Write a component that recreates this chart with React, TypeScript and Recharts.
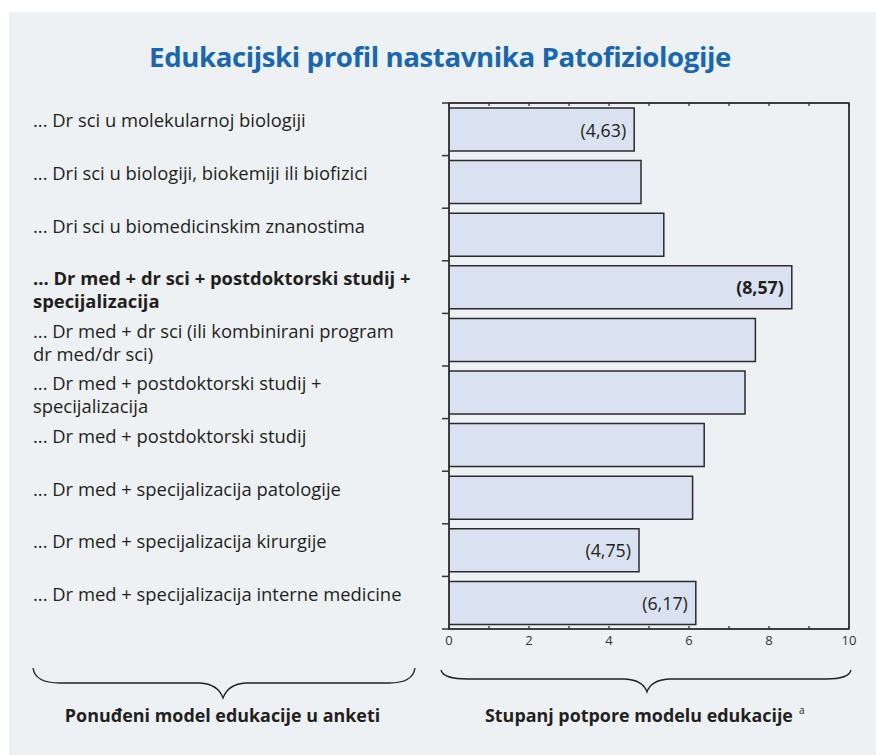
import { BarChart, Bar, XAxis, YAxis, ReferenceLine, ReferenceArea, LabelList } from "recharts"

const categories = [
  "... Dr sci u molekularnoj biologiji",
  "... Dri sci u biologiji, biokemiji ili biofizici",
  "... Dri sci u biomedicinskim znanostima",
  "... Dr med + dr sci + postdoktorski studij +\nspecijalizacija",
  "... Dr med + dr sci (ili kombinirani program\ndr med/dr sci)",
  "... Dr med + postdoktorski studij +\nspecijalizacija",
  "... Dr med + postdoktorski studij",
  "... Dr med + specijalizacija patologije",
  "... Dr med + specijalizacija kirurgije",
  "... Dr med + specijalizacija interne medicine",
]
const support = [4.63, 4.8, 5.37, 8.57, 7.66, 7.4, 6.38, 6.09, 4.75, 6.17]
const shownValues = ["(4,63)", "", "", "(8,57)", "", "", "", "", "(4,75)", "(6,17)"]
const highlighted = [false, false, false, true, false, false, false, false, false, false]
const xTicks = [0, 1, 2, 3, 4, 5, 6, 7, 8, 9, 10]

const title = "Edukacijski profil nastavnika Patofiziologije"
const leftCaption = "Ponuđeni model edukacije u anketi"
const rightCaption = "Stupanj potpore modelu edukacije"

const data = categories.map((name, i) => ({ name, value: support[i], shown: shownValues[i] }))

const INK = "#231f20"
const AXIS = "#333333"
const FONT = "'Open Sans', sans-serif"
const LABEL_X = 33

// category labels sit left-aligned at LABEL_X, tick marks go on the band edges
function CategoryTick(props: any) {
  const { x, y, payload, index, visibleTicksCount } = props
  const half = payload?.offset || 26.3
  const lines = String(payload.value).split("\n")
  const bold = highlighted[index]
  return (
    <g>
      <line x1={x - 7} x2={x} y1={y - half} y2={y - half} stroke={AXIS} strokeWidth={1.5} />
      {index === visibleTicksCount - 1 && (
        <line x1={x - 7} x2={x} y1={y + half} y2={y + half} stroke={AXIS} strokeWidth={1.5} />
      )}
      {lines.map((l, i) => (
        <text
          key={i}
          x={LABEL_X}
          y={y - 2 + i * 23}
          fill={INK}
          fontSize={18.4}
          fontWeight={bold ? 700 : 400}
          fontFamily={FONT}
        >
          {l}
        </text>
      ))}
    </g>
  )
}

function BottomTick(props: any) {
  const { x, y, payload } = props
  return (
    <g>
      <line x1={x} x2={x} y1={y} y2={y - 3} stroke={AXIS} strokeWidth={1.3} />
      {payload.value % 2 === 0 && (
        <text x={x} y={y + 13} textAnchor="middle" dominantBaseline="middle" fill={AXIS} fontSize={13} fontFamily={FONT}>
          {payload.value}
        </text>
      )}
    </g>
  )
}

function TopTick(props: any) {
  const { x, y } = props
  return <line x1={x} x2={x} y1={y} y2={y + 3} stroke={AXIS} strokeWidth={1.3} />
}

function ValueLabel(props: any) {
  const { x, y, width, height, value, index } = props
  if (!value) return null
  return (
    <text
      x={x + width - 8}
      y={y + height / 2}
      textAnchor="end"
      dominantBaseline="central"
      fill={INK}
      fontSize={17.8}
      fontWeight={highlighted[index] ? 700 : 400}
      fontFamily={FONT}
    >
      {value}
    </text>
  )
}

export default function App() {
  return (
    <div style={{ position: "absolute", left: 0, top: 0, width: 876, height: 755, background: "#fff", overflow: "hidden" }}>
      <div style={{ position: "absolute", left: 9, top: 12, right: 0, bottom: 0, background: "#edf1f3" }} />
      <div
        style={{
          position: "absolute",
          left: 0,
          width: 880,
          top: 38,
          textAlign: "center",
          color: "#1767b3",
          fontFamily: FONT,
          fontWeight: 700,
          fontSize: 27.6,
          letterSpacing: -0.4,
          lineHeight: "36px",
        }}
      >
        {title}
      </div>
      <div style={{ position: "absolute", left: 0, top: 0 }}>
        <BarChart
          width={876}
          height={755}
          data={data}
          layout="vertical"
          margin={{ top: 102, right: 27, bottom: 96, left: LABEL_X }}
          barCategoryGap={5}
        >
          <XAxis
            type="number"
            domain={[0, 10]}
            ticks={xTicks}
            allowDataOverflow
            height={30}
            tickSize={0}
            tickMargin={0}
            tickLine={false}
            axisLine={{ stroke: AXIS, strokeWidth: 1.5 }}
            tick={<BottomTick />}
            interval={0}
          />
          <XAxis
            xAxisId="top"
            orientation="top"
            type="number"
            domain={[0, 10]}
            ticks={xTicks}
            allowDataOverflow
            height={1}
            tickSize={0}
            tickMargin={0}
            tickLine={false}
            axisLine={{ stroke: AXIS, strokeWidth: 1.5 }}
            tick={<TopTick />}
            interval={0}
          />
          <YAxis
            type="category"
            dataKey="name"
            width={449 - LABEL_X}
            tickSize={0}
            tickMargin={0}
            tickLine={false}
            axisLine={{ stroke: AXIS, strokeWidth: 1.5 }}
            tick={<CategoryTick />}
            interval={0}
          />
          <ReferenceArea x1={0} x2={10} fill="none" stroke={AXIS} strokeWidth={1.5} fillOpacity={0} />
          {/* binds the top axis so it gets a domain and draws its ticks */}
          <ReferenceLine xAxisId="top" x={10} ifOverflow="extendDomain" stroke={AXIS} strokeWidth={1.5} />
          <Bar dataKey="value" fill="#dae1f0" stroke="#2b2b2b" strokeWidth={1.5} isAnimationActive={false}>
            <LabelList dataKey="shown" content={<ValueLabel />} />
          </Bar>
        </BarChart>
      </div>
      <svg width={876} height={755} style={{ position: "absolute", left: 0, top: 0, pointerEvents: "none" }}>
        <path
          d="M33,668 Q35,683 60,683 L200,683 Q218,684 223,698 Q228,684 246,683 L389,683 Q413,683 415,668"
          fill="none"
          stroke={INK}
          strokeWidth={1.3}
        />
        <path
          d="M441,670 Q443,679 468,679 L625,679 Q643,680 647,692 Q651,680 669,679 L826,679 Q849,679 851,670"
          fill="none"
          stroke={INK}
          strokeWidth={1.3}
        />
        <text x={222.5} y={715} textAnchor="middle" dominantBaseline="central" fill={INK} fontSize={17.9} fontWeight={700} fontFamily={FONT}>
          {leftCaption}
        </text>
        <text x={485} y={715} textAnchor="start" dominantBaseline="central" fill={INK} fontSize={17.9} fontWeight={700} fontFamily={FONT}>
          {rightCaption}
          <tspan fontSize={10} fontWeight={400} dx={6} dy={-5}>
            a
          </tspan>
        </text>
      </svg>
    </div>
  )
}
